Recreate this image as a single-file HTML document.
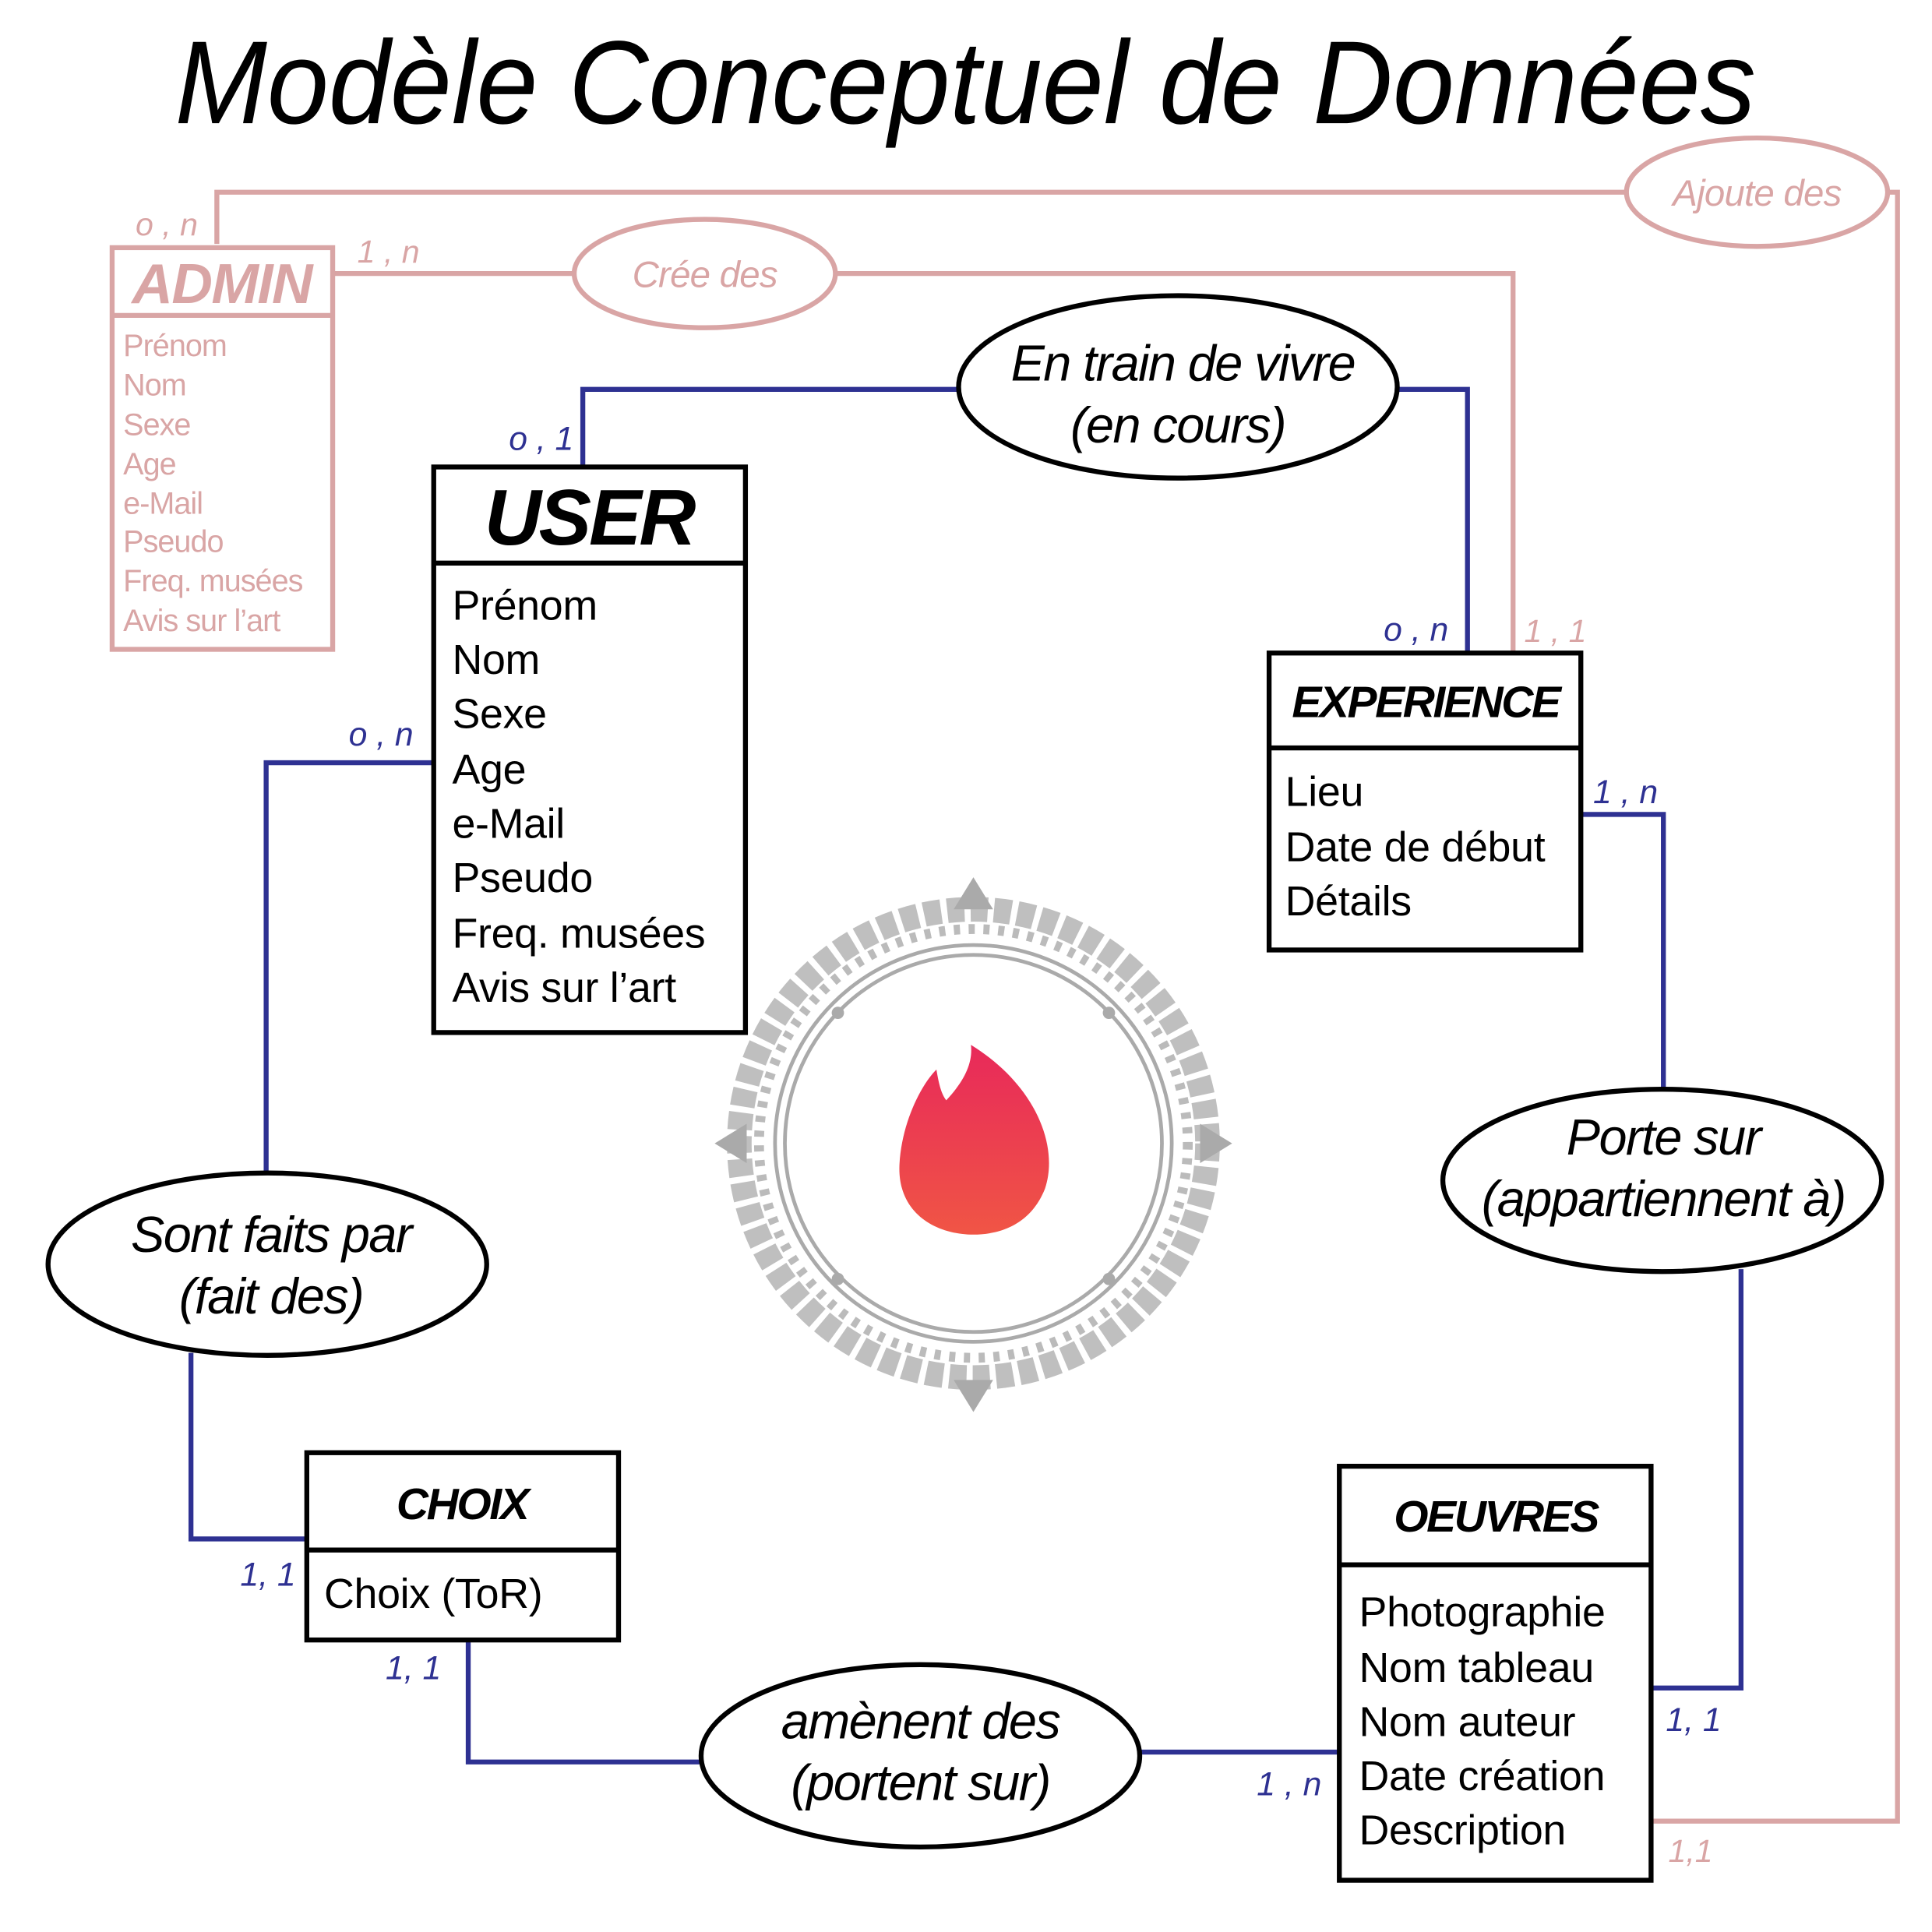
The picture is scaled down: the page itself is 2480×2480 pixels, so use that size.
<!DOCTYPE html>
<html><head><meta charset="utf-8"><style>
html,body{margin:0;padding:0;background:#fff;}
svg{display:block;}
text{font-family:"Liberation Sans",sans-serif;}
</style></head><body>
<svg width="2480" height="2480" viewBox="0 0 1568 1568" xmlns="http://www.w3.org/2000/svg">
<defs>
<linearGradient id="fg" x1="0" y1="0" x2="0" y2="1"><stop offset="0" stop-color="#e8295a"/><stop offset="1" stop-color="#f05545"/></linearGradient>
</defs>
<text x="142" y="100" font-size="96" font-style="italic" textLength="1283" lengthAdjust="spacingAndGlyphs" fill="#000">Modèle Conceptuel de Données</text>

<g stroke="#d9a5a5" stroke-width="4" fill="none">
<polyline points="176,198 176,156 1320,156"/>
<polyline points="1532,156 1540,156 1540,1478 1340,1478"/>
<polyline points="270,222 466,222"/>
<polyline points="678,222 1228,222 1228,530"/>
<ellipse cx="1426" cy="156" rx="106" ry="44"/>
<ellipse cx="572" cy="222" rx="106" ry="44"/>
<rect x="91" y="201" width="179" height="326"/>
<line x1="91" y1="256" x2="270" y2="256"/>
</g>
<g fill="#d9a5a5" font-style="italic">
<text x="1426" y="167" font-size="30" text-anchor="middle" letter-spacing="-0.5">Ajoute des</text>
<text x="572" y="233" font-size="30" text-anchor="middle" letter-spacing="-0.5">Crée des</text>
<text x="180" y="246" font-size="46" font-weight="bold" text-anchor="middle" letter-spacing="-1">ADMIN</text>
<text x="110" y="191" font-size="26">o , n</text>
<text x="290" y="213" font-size="26">1 , n</text>
<text x="1237" y="521" font-size="26">1 , 1</text>
<text x="1354" y="1511" font-size="26">1,1</text>
</g>
<g fill="#d9a5a5" font-size="25" letter-spacing="-0.6">
<text x="100" y="289">Prénom</text><text x="100" y="321">Nom</text><text x="100" y="353">Sexe</text><text x="100" y="385">Age</text><text x="100" y="417">e-Mail</text><text x="100" y="448">Pseudo</text><text x="100" y="480">Freq. musées</text><text x="100" y="512">Avis sur l’art</text>
</g>

<g stroke="#2e3192" stroke-width="4" fill="none">
<polyline points="473,379 473,316 778,316"/>
<polyline points="1134,316 1191,316 1191,530"/>
<polyline points="1283,661 1350,661 1350,885"/>
<polyline points="1413,1030 1413,1370 1340,1370"/>
<polyline points="1087,1422 926,1422"/>
<polyline points="568,1430 380,1430 380,1331"/>
<polyline points="249,1249 155,1249 155,1098"/>
<polyline points="216,952 216,619 352,619"/>
</g>
<g fill="#2e3192" font-style="italic" font-size="27">
<text x="413" y="365">o , 1</text>
<text x="1123" y="520">o , n</text>
<text x="1293" y="652">1 , n</text>
<text x="1352" y="1405">1, 1</text>
<text x="1020" y="1457">1 , n</text>
<text x="313" y="1363">1, 1</text>
<text x="195" y="1287">1, 1</text>
<text x="283" y="605">o , n</text>
</g>

<g stroke="#000" stroke-width="4" fill="#fff">
<ellipse cx="956" cy="314" rx="178" ry="74"/>
<ellipse cx="1349" cy="958" rx="178" ry="74"/>
<ellipse cx="747" cy="1425" rx="178" ry="74"/>
<ellipse cx="217" cy="1026" rx="178" ry="74"/>
</g>
<g font-style="italic" font-size="41" text-anchor="middle" letter-spacing="-1" fill="#000">
<text x="960" y="309">En train de vivre</text><text x="956" y="359">(en cours)</text>
<text x="1350" y="937">Porte sur</text><text x="1350" y="987">(appartiennent à)</text>
<text x="747" y="1411">amènent des</text><text x="747" y="1461">(portent sur)</text>
<text x="220" y="1016">Sont faits par</text><text x="220" y="1066">(fait des)</text>
</g>

<g stroke="#000" stroke-width="4" fill="none">
<rect x="352" y="379" width="253" height="459"/><line x1="352" y1="457" x2="605" y2="457"/>
<rect x="1030" y="530" width="253" height="241"/><line x1="1030" y1="607" x2="1283" y2="607"/>
<rect x="1087" y="1190" width="253" height="336"/><line x1="1087" y1="1270" x2="1340" y2="1270"/>
<rect x="249" y="1179" width="253" height="152"/><line x1="249" y1="1258" x2="502" y2="1258"/>
</g>
<g fill="#000" font-style="italic" font-weight="bold" text-anchor="middle">
<text x="478" y="442" font-size="64" letter-spacing="-2">USER</text>
<text x="1157" y="582" font-size="36" letter-spacing="-1.5">EXPERIENCE</text>
<text x="1214" y="1243" font-size="36" letter-spacing="-1.5">OEUVRES</text>
<text x="375" y="1233" font-size="36" letter-spacing="-1.5">CHOIX</text>
</g>
<g fill="#000" font-size="34" letter-spacing="-0.2">
<text x="367" y="503">Prénom</text><text x="367" y="547">Nom</text><text x="367" y="591">Sexe</text><text x="367" y="636">Age</text><text x="367" y="680">e-Mail</text><text x="367" y="724">Pseudo</text><text x="367" y="769">Freq. musées</text><text x="367" y="813">Avis sur l’art</text>
<text x="1043" y="654">Lieu</text><text x="1043" y="699">Date de début</text><text x="1043" y="743">Détails</text>
<text x="1103" y="1320">Photographie</text><text x="1103" y="1365">Nom tableau</text><text x="1103" y="1409">Nom auteur</text><text x="1103" y="1453">Date création</text><text x="1103" y="1497">Description</text>
<text x="263" y="1305">Choix (ToR)</text>
</g>

<g fill="none" stroke="#aaa">
<circle cx="790" cy="928" r="153" stroke-width="3"/>
<circle cx="790" cy="928" r="161" stroke-width="3"/>
<circle cx="790" cy="928" r="190" stroke-width="20" stroke-dasharray="14 5" opacity="0.75"/>
<circle cx="790" cy="928" r="174" stroke-width="8" stroke-dasharray="5 7" opacity="0.8"/>
</g>
<g fill="#aaa">
<path d="M790 712 l16 26 h-32z"/><path d="M790 1146 l16 -26 h-32z"/>
<path d="M580 928 l26 -16 v32z"/><path d="M1000 928 l-26 -16 v32z"/>
<circle cx="680" cy="822" r="5"/><circle cx="900" cy="822" r="5"/><circle cx="680" cy="1038" r="5"/><circle cx="900" cy="1038" r="5"/>
</g>
<path d="M788 848 C 840 880, 860 930, 848 965 C 836 995, 810 1002, 790 1002 C 760 1002, 728 985, 730 945 C 732 910, 748 880, 760 868 C 762 880, 764 888, 768 893 C 780 880, 790 865, 788 848 Z" fill="url(#fg)"/>
</svg>
</body></html>
